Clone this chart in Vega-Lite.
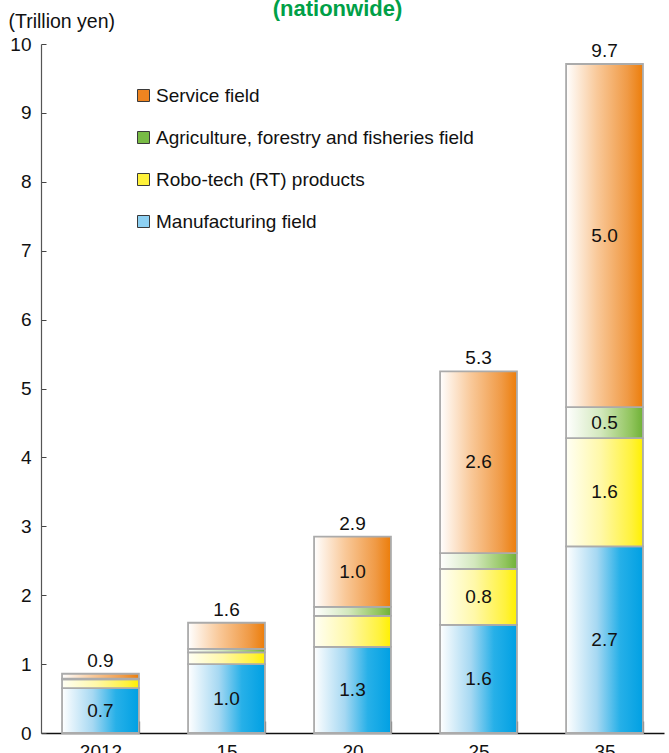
{
  "$schema": "https://vega.github.io/schema/vega-lite/v6.json",
  "width": 623,
  "height": 689,
  "autosize": {"type": "none"},
  "padding": {"left": 41, "top": 44, "right": 5, "bottom": 20},
  "background": "white",
  "title": {
    "text": "(nationwide)",
    "color": "#00a047",
    "font": "Liberation Sans",
    "fontSize": 22,
    "fontWeight": "bold",
    "anchor": "middle",
    "frame": "group",
    "dx": -15,
    "offset": -10
  },
  "config": {
    "view": {"stroke": null},
    "font": "Liberation Sans"
  },
  "datasets": {
    "segments": [
      {"year": "2012", "cat": "Manufacturing field", "k": 1, "value": 0.65, "label": "0.7"},
      {"year": "2012", "cat": "Robo-tech (RT) products", "k": 2, "value": 0.13, "label": ""},
      {"year": "2012", "cat": "Agriculture, forestry and fisheries field", "k": 3, "value": 0.01, "label": ""},
      {"year": "2012", "cat": "Service field", "k": 4, "value": 0.07, "label": ""},
      {"year": "15", "cat": "Manufacturing field", "k": 1, "value": 1.0, "label": "1.0"},
      {"year": "15", "cat": "Robo-tech (RT) products", "k": 2, "value": 0.17, "label": ""},
      {"year": "15", "cat": "Agriculture, forestry and fisheries field", "k": 3, "value": 0.05, "label": ""},
      {"year": "15", "cat": "Service field", "k": 4, "value": 0.38, "label": ""},
      {"year": "20", "cat": "Manufacturing field", "k": 1, "value": 1.25, "label": "1.3"},
      {"year": "20", "cat": "Robo-tech (RT) products", "k": 2, "value": 0.45, "label": ""},
      {"year": "20", "cat": "Agriculture, forestry and fisheries field", "k": 3, "value": 0.13, "label": ""},
      {"year": "20", "cat": "Service field", "k": 4, "value": 1.02, "label": "1.0"},
      {"year": "25", "cat": "Manufacturing field", "k": 1, "value": 1.57, "label": "1.6"},
      {"year": "25", "cat": "Robo-tech (RT) products", "k": 2, "value": 0.81, "label": "0.8"},
      {"year": "25", "cat": "Agriculture, forestry and fisheries field", "k": 3, "value": 0.23, "label": ""},
      {"year": "25", "cat": "Service field", "k": 4, "value": 2.64, "label": "2.6"},
      {"year": "35", "cat": "Manufacturing field", "k": 1, "value": 2.71, "label": "2.7"},
      {"year": "35", "cat": "Robo-tech (RT) products", "k": 2, "value": 1.57, "label": "1.6"},
      {"year": "35", "cat": "Agriculture, forestry and fisheries field", "k": 3, "value": 0.45, "label": "0.5"},
      {"year": "35", "cat": "Service field", "k": 4, "value": 4.98, "label": "5.0"}
    ],
    "totals": [
      {"year": "2012", "total": 0.86, "label": "0.9"},
      {"year": "15", "total": 1.6, "label": "1.6"},
      {"year": "20", "total": 2.85, "label": "2.9"},
      {"year": "25", "total": 5.25, "label": "5.3"},
      {"year": "35", "total": 9.71, "label": "9.7"}
    ]
  },
  "encoding": {
    "x": {
      "field": "year",
      "type": "nominal",
      "sort": ["2012", "15", "20", "25", "35"],
      "scale": {"paddingInner": 0.39, "paddingOuter": 0.167},
      "axis": {
        "title": null,
        "labelAngle": 0,
        "labelFontSize": 19,
        "labelColor": "#111",
        "labelPadding": 21,
        "tickBand": "extent",
        "tickSize": -12,
        "tickColor": "#222",
        "tickWidth": 1.2,
        "domainColor": "#111",
        "domainWidth": 1.5
      }
    }
  },
  "layer": [
    {
      "data": {"name": "segments"},
      "transform": [
        {"stack": "value", "groupby": ["year"], "sort": [{"field": "k", "order": "ascending"}], "as": ["y0", "y1"]}
      ],
      "mark": {"type": "bar", "stroke": "#ababab", "strokeWidth": 1.8},
      "encoding": {
        "y": {
          "field": "y0",
          "type": "quantitative",
          "scale": {"domain": [0, 10], "nice": false},
          "axis": {
            "title": "(Trillion yen)",
            "titleAngle": 0,
            "titleAlign": "left",
            "titleBaseline": "alphabetic",
            "titleX": -33,
            "titleY": -17,
            "titleFont": "Liberation Sans",
            "titleFontSize": 19.5,
            "titleFontWeight": "normal",
            "titleColor": "#111",
            "values": [0, 1, 2, 3, 4, 5, 6, 7, 8, 9, 10],
            "format": "d",
            "grid": false,
            "labelFontSize": 19,
            "labelColor": "#111",
            "labelPadding": 15,
            "tickSize": -5,
            "tickColor": "#444",
            "domainColor": "#555",
            "domainWidth": 1.2
          }
        },
        "y2": {"field": "y1"},
        "fill": {
          "condition": [
            {"test": "datum.k === 4", "value": {"gradient": "linear", "x1": 0, "x2": 1, "y1": 0, "y2": 0, "stops": [{"offset": 0, "color": "#ffffff"}, {"offset": 0.4, "color": "#f9c99a"}, {"offset": 0.8, "color": "#f09a45"}, {"offset": 1, "color": "#ec7d0a"}]}},
            {"test": "datum.k === 3", "value": {"gradient": "linear", "x1": 0, "x2": 1, "y1": 0, "y2": 0, "stops": [{"offset": 0, "color": "#ffffff"}, {"offset": 0.45, "color": "#d3e8bd"}, {"offset": 0.85, "color": "#90c45c"}, {"offset": 1, "color": "#6fb136"}]}},
            {"test": "datum.k === 2", "value": {"gradient": "linear", "x1": 0, "x2": 1, "y1": 0, "y2": 0, "stops": [{"offset": 0, "color": "#fffff5"}, {"offset": 0.45, "color": "#fff8a8"}, {"offset": 0.85, "color": "#fff23c"}, {"offset": 1, "color": "#fff000"}]}}
          ],
          "value": {"gradient": "linear", "x1": 0, "x2": 1, "y1": 0, "y2": 0, "stops": [{"offset": 0, "color": "#ffffff"}, {"offset": 0.4, "color": "#a6d8f2"}, {"offset": 0.7, "color": "#27b0e8"}, {"offset": 1, "color": "#00a0e3"}]}
        }
      }
    },
    {
      "data": {"name": "segments"},
      "mark": {"type": "square", "opacity": 0},
      "encoding": {
        "y": {"field": "value", "type": "quantitative"},
        "color": {
          "field": "cat",
          "type": "nominal",
          "scale": {
            "domain": ["Service field", "Agriculture, forestry and fisheries field", "Robo-tech (RT) products", "Manufacturing field"],
            "range": ["#ee8420", "#78bb45", "#fff23a", "#8dd0f2"]
          },
          "legend": {
            "orient": "none",
            "legendX": 93,
            "legendY": 42,
            "title": null,
            "symbolType": "square",
            "symbolSize": 144,
            "symbolOpacity": 1,
            "symbolStrokeColor": "#3a3a3a",
            "symbolStrokeWidth": 1,
            "labelFontSize": 19,
            "labelColor": "#111",
            "labelFont": "Liberation Sans",
            "labelOffset": 3,
            "labelLimit": 400,
            "rowPadding": 22
          }
        }
      }
    },
    {
      "data": {"name": "segments"},
      "transform": [
        {"stack": "value", "groupby": ["year"], "sort": [{"field": "k", "order": "ascending"}], "as": ["y0", "y1"]},
        {"fold": ["y0", "y1"], "as": ["edge", "pos"]},
        {"aggregate": [{"op": "mean", "field": "pos", "as": "mid"}], "groupby": ["year", "cat", "label"]}
      ],
      "mark": {"type": "text", "fontSize": 19, "color": "#111", "baseline": "middle"},
      "encoding": {
        "y": {"field": "mid", "type": "quantitative"},
        "text": {"field": "label"}
      }
    },
    {
      "data": {"name": "totals"},
      "mark": {"type": "text", "fontSize": 19, "color": "#111", "baseline": "bottom", "dy": -3},
      "encoding": {
        "y": {"field": "total", "type": "quantitative"},
        "text": {"field": "label"}
      }
    }
  ]
}
